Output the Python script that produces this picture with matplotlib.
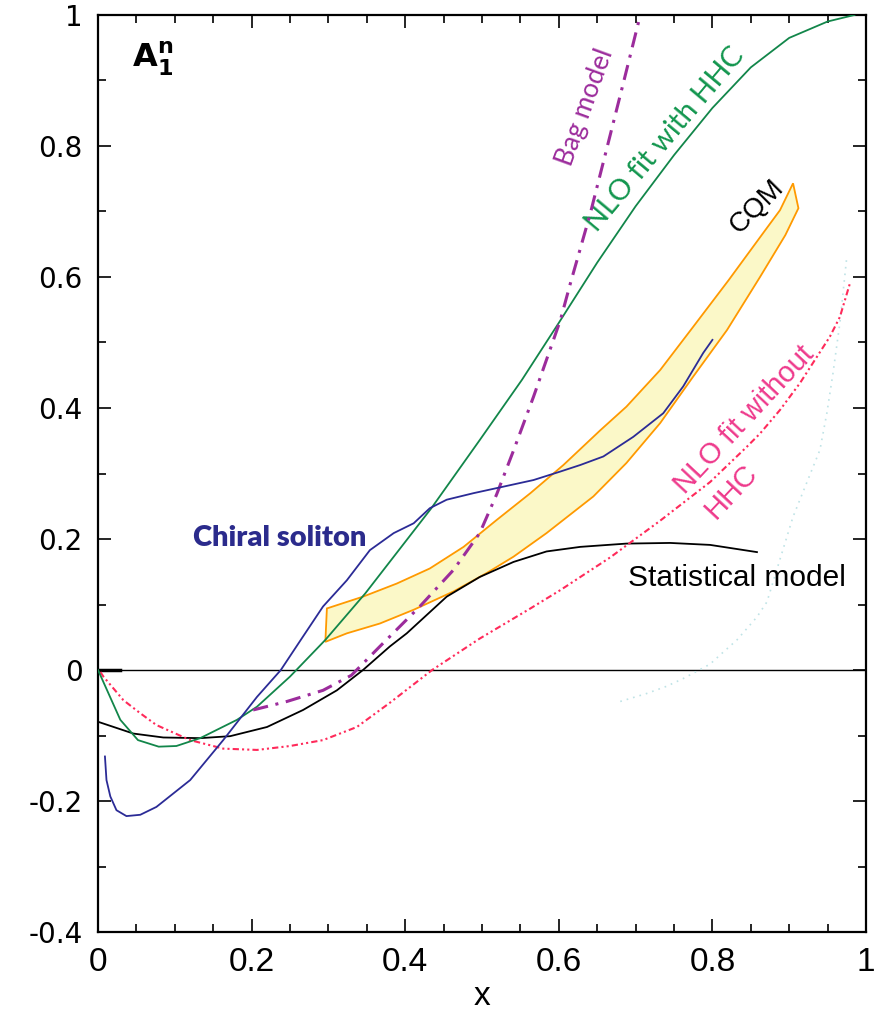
import matplotlib
matplotlib.use('Agg')
import matplotlib.pyplot as plt
from matplotlib.ticker import MultipleLocator

# Data
green_x = [0.0, 0.029, 0.052, 0.079, 0.102, 0.133, 0.181, 0.207, 0.250, 0.296, 0.348, 0.434, 0.497,
           0.552, 0.60, 0.65, 0.70, 0.75, 0.80, 0.85, 0.90, 0.95, 0.985]
green_y = [0.0, -0.076, -0.107, -0.117, -0.116, -0.104, -0.076, -0.056, -0.010, 0.046, 0.117, 0.247, 0.351,
           0.443, 0.530, 0.622, 0.708, 0.786, 0.858, 0.920, 0.965, 0.990, 1.0]

bag_x = [0.202, 0.246, 0.293, 0.330, 0.367, 0.419, 0.463, 0.497, 0.519, 0.541, 0.567, 0.602,
         0.615, 0.641, 0.662, 0.684, 0.704]
bag_y = [-0.061, -0.048, -0.031, -0.008, 0.036, 0.097, 0.153, 0.209, 0.268, 0.335, 0.417, 0.534,
         0.590, 0.697, 0.794, 0.896, 0.990]

stat_x = [0.0, 0.046, 0.085, 0.133, 0.172, 0.220, 0.267, 0.311, 0.345, 0.380, 0.402, 0.454,
          0.497, 0.541, 0.584, 0.628, 0.688, 0.745, 0.797, 0.858]
stat_y = [-0.079, -0.097, -0.103, -0.104, -0.101, -0.087, -0.061, -0.031, 0.0, 0.036, 0.056, 0.112,
          0.142, 0.165, 0.181, 0.188, 0.193, 0.194, 0.191, 0.180]

chiral_x = [0.009, 0.011, 0.016, 0.024, 0.037, 0.055, 0.076, 0.120, 0.163, 0.207, 0.238, 0.264,
            0.293, 0.324, 0.354, 0.385, 0.411, 0.432, 0.454, 0.489, 0.532, 0.567, 0.602, 0.628,
            0.658, 0.697, 0.736, 0.762, 0.788, 0.800]
chiral_y = [-0.132, -0.168, -0.193, -0.214, -0.223, -0.221, -0.209, -0.168, -0.107, -0.041, 0.0, 0.046,
            0.097, 0.137, 0.183, 0.209, 0.224, 0.247, 0.260, 0.270, 0.281, 0.290, 0.303, 0.313,
            0.326, 0.356, 0.392, 0.433, 0.484, 0.504]

cqm_up_x = [0.298, 0.345, 0.389, 0.432, 0.476, 0.519, 0.563, 0.606, 0.654, 0.688, 0.732, 0.775,
            0.821, 0.866, 0.888, 0.905]
cqm_up_y = [0.094, 0.112, 0.132, 0.155, 0.188, 0.229, 0.270, 0.313, 0.366, 0.402, 0.458, 0.524,
            0.595, 0.667, 0.702, 0.743]
cqm_lo_x = [0.296, 0.324, 0.367, 0.411, 0.463, 0.506, 0.541, 0.584, 0.645, 0.688, 0.732, 0.775,
            0.819, 0.862, 0.895, 0.912]
cqm_lo_y = [0.043, 0.056, 0.071, 0.092, 0.120, 0.148, 0.173, 0.209, 0.265, 0.316, 0.377, 0.448,
            0.519, 0.600, 0.664, 0.705]

nohhc_x = [0.003, 0.007, 0.033, 0.055, 0.076, 0.120, 0.163, 0.207, 0.250, 0.293, 0.337, 0.380, 0.435,
           0.497, 0.563, 0.602, 0.667, 0.732, 0.797, 0.845, 0.862, 0.888, 0.914, 0.936, 0.953,
           0.966, 0.979]
nohhc_y = [-0.003, -0.010, -0.046, -0.066, -0.084, -0.107, -0.120, -0.122, -0.116, -0.107, -0.087, -0.050, 0.0,
           0.048, 0.094, 0.122, 0.172, 0.228, 0.287, 0.341, 0.361, 0.397, 0.438, 0.478, 0.509,
           0.539, 0.590]

faint_x = [0.680, 0.714, 0.740, 0.762, 0.797, 0.810, 0.832, 0.858, 0.871, 0.905, 0.940, 0.949,
           0.957, 0.966, 0.975]
faint_y = [-0.048, -0.036, -0.025, -0.013, 0.009, 0.023, 0.046, 0.081, 0.104, 0.234, 0.336, 0.392,
           0.453, 0.530, 0.631]

stub_x = [0.0, 0.028]
stub_y = [0.0, 0.0]

x_ticks = [0, 0.2, 0.4, 0.6, 0.8, 1.0]
x_tick_labels = ['0', '0.2', '0.4', '0.6', '0.8', '1']
y_ticks = [-0.4, -0.2, 0, 0.2, 0.4, 0.6, 0.8, 1.0]
y_tick_labels = ['-0.4', '-0.2', '0', '0.2', '0.4', '0.6', '0.8', '1']

fig = plt.figure(figsize=(8.8, 10.11), dpi=100)
ax = fig.add_axes([0.1114, 0.0781, 0.8727, 0.9071])

ax.axhline(0, color='black', lw=1.0, zorder=1)
ax.plot(stub_x, stub_y, color='black', lw=2.5)

ax.fill(cqm_up_x + cqm_lo_x[::-1], cqm_up_y + cqm_lo_y[::-1],
        facecolor='#fbf8c8', edgecolor='#ff9900', lw=1.3, zorder=2)

ax.plot(faint_x, faint_y, color='#bfe3e6', lw=1.2, ls=(0, (1, 3)), zorder=2)
ax.plot(stat_x, stat_y, color='black', lw=1.3, zorder=3)
ax.plot(nohhc_x, nohhc_y, color='#ff2a5a', lw=1.5, dashes=(3, 1.5, 1, 1.5, 1, 1.5), zorder=3)
ax.plot(green_x, green_y, color='#12864a', lw=1.3, zorder=4)
ax.plot(bag_x, bag_y, color='#9c2c9c', lw=2.2, dashes=(5, 2.5, 1, 2.5), zorder=4)
ax.plot(chiral_x, chiral_y, color='#2b2b96', lw=1.3, zorder=5)

ax.set_xlim(0, 1)
ax.set_ylim(-0.4, 1)
ax.set_xticks(x_ticks)
ax.set_xticklabels(x_tick_labels, family='Liberation Sans', fontsize=24)
ax.set_yticks(y_ticks)
ax.set_yticklabels(y_tick_labels, family='DejaVu Sans', fontsize=20)
ax.xaxis.set_minor_locator(MultipleLocator(0.05))
ax.yaxis.set_minor_locator(MultipleLocator(0.1))
ax.tick_params(which='both', direction='in', top=True, right=True, width=1.2)
ax.tick_params(which='major', length=9.5)
ax.tick_params(which='minor', length=6)
ax.tick_params(axis='x', pad=11)
ax.tick_params(axis='y', pad=11)
for sp in ax.spines.values():
    sp.set_linewidth(1.6)
ax.set_xlabel('x', family='Liberation Sans', fontsize=24, labelpad=2)

ax.text(0.044, 0.921, r'$\mathbf{A}_{\mathbf{1}}^{\mathbf{n}}$', fontsize=23, va='baseline', ha='left')
ax.text(0.635, 0.860, 'Bag model', color='#9c2c9c', family='Lato', fontsize=19,
        rotation=70, ha='center', va='center', rotation_mode='anchor')
ax.text(0.739, 0.810, 'NLO fit with HHC', color='#12964e', family='Lato', fontsize=21,
        rotation=50, ha='center', va='center', rotation_mode='anchor')
ax.text(0.858, 0.708, 'CQM', color='black', family='Liberation Sans', fontsize=20,
        rotation=45, ha='center', va='center', rotation_mode='anchor')
ax.text(0.842, 0.382, 'NLO fit without', color='#ee3a8c', family='Liberation Sans', fontsize=21,
        rotation=47, ha='center', va='center', rotation_mode='anchor')
ax.text(0.825, 0.272, 'HHC', color='#ee3a8c', family='Liberation Sans', fontsize=21,
        rotation=47, ha='center', va='center', rotation_mode='anchor')
ax.text(0.237, 0.2015, 'Chiral soliton', color='#2b2b8c', family='Lato', fontweight='heavy',
        fontsize=21, ha='center', va='center')
ax.text(0.832, 0.128, 'Statistical model', color='black', family='Liberation Sans', fontsize=21.5,
        ha='center', va='baseline')

fig.savefig('out.png', dpi=100)
